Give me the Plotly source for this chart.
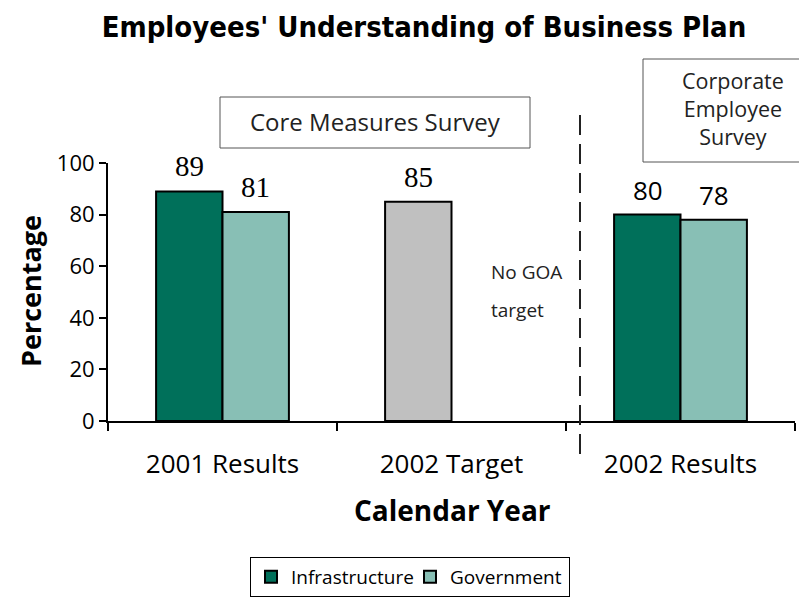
import plotly.graph_objects as go

categories = ["2001 Results", "2002 Target", "2002 Results"]
infrastructure = [89, 85, 80]
government = [81, None, 78]
infra_colors = ["#00705A", "#C0C0C0", "#00705A"]
gov_color = "#88BFB5"
y_ticks = [0, 20, 40, 60, 80, 100]
label_fonts_infra = ["Liberation Serif", "Liberation Serif", "Open Sans"]
label_fonts_gov = ["Liberation Serif", None, "Open Sans"]
label_sizes_infra = [29, 29, 26]
label_sizes_gov = [29, None, 26]

SANS = "Open Sans"

fig = go.Figure()
fig.add_trace(go.Bar(
    name="Infrastructure", x=categories, y=infrastructure,
    marker=dict(color=infra_colors, line=dict(color="black", width=2)),
))
fig.add_trace(go.Bar(
    name="Government", x=categories, y=government,
    marker=dict(color=gov_color, line=dict(color="black", width=2)),
))

annotations = []
for i, c in enumerate(categories):
    v = infrastructure[i]
    if v is not None:
        annotations.append(dict(x=c, y=v, xref="x", yref="y", text=str(v), showarrow=False,
                                xshift=-33, yshift=25, yanchor="middle",
                                font=dict(family=label_fonts_infra[i], size=label_sizes_infra[i], color="black")))
    v = government[i]
    if v is not None:
        annotations.append(dict(x=c, y=v, xref="x", yref="y", text=str(v), showarrow=False,
                                xshift=33, yshift=25, yanchor="middle",
                                font=dict(family=label_fonts_gov[i], size=label_sizes_gov[i], color="black")))

# page has an 8px body margin; figure is sized to fit the window
OFF = 8
W, H = 807 - OFF, 598 - OFF
PL, PR, PT, PB = 108, 795, 163, 421   # plot area in page pixels
L, T = PL - OFF, PT - OFF
R, B = W - (PR - OFF), H - (PB - OFF)
pw, ph = PR - PL, PB - PT

def px(x):
    return (x - PL) / pw

def py(y):
    return (PB - y) / ph

shapes = [
    dict(type="rect", xref="paper", yref="paper", x0=px(220), x1=px(530), y0=py(148), y1=py(97),
         line=dict(color="#555555", width=1), fillcolor="white"),
    dict(type="rect", xref="paper", yref="paper", x0=px(643), x1=px(806), y0=py(162), y1=py(59),
         line=dict(color="#555555", width=1), fillcolor="white"),
    dict(type="line", xref="paper", yref="paper", x0=px(580), x1=px(580), y0=py(115), y1=py(463),
         line=dict(color="#222222", width=2, dash="20px,9px")),
]

txt = dict(family=SANS, size=24, color="#222222")
annotations += [
    dict(xref="paper", yref="paper", x=px(375), y=py(122), text="Core Measures Survey", showarrow=False,
         xanchor="center", yanchor="middle", font=txt),
    dict(xref="paper", yref="paper", x=px(733), y=py(108), text="Corporate<br>Employee<br>Survey",
         showarrow=False, xanchor="center", yanchor="middle", align="center",
         font=dict(family=SANS, size=21.5, color="#222222")),
    dict(xref="paper", yref="paper", x=px(489), y=py(272), text="No GOA", showarrow=False,
         xanchor="left", yanchor="middle", font=dict(family=SANS, size=19, color="#222222")),
    dict(xref="paper", yref="paper", x=px(489), y=py(310), text="target", showarrow=False,
         xanchor="left", yanchor="middle", font=dict(family=SANS, size=19, color="#222222")),
    dict(xref="paper", yref="paper", x=px(30), y=py(291), text="<b>Percentage</b>", showarrow=False,
         textangle=-90, xanchor="center", yanchor="middle", font=dict(family=SANS, size=27, color="black")),
    dict(xref="paper", yref="paper", x=px(453), y=py(510), text="<b>Calendar Year</b>", showarrow=False,
         xanchor="center", yanchor="middle", font=dict(family=SANS, size=28, color="black")),
]

fig.update_layout(
    width=W, height=H,
    margin=dict(l=L, r=R, t=T, b=B, autoexpand=False),
    paper_bgcolor="white", plot_bgcolor="white",
    barmode="group", bargap=0.42, bargroupgap=0,
    title=dict(text="<b>Employees' Understanding of Business Plan</b>", x=(424 - OFF) / W, xanchor="center",
               y=1 - (27 - OFF) / H, yanchor="middle", yref="container",
               font=dict(family="DejaVu Sans Condensed", size=29, color="black")),
    font=dict(family=SANS, color="black"),
    showlegend=True,
    legend=dict(orientation="h", x=px(410), xanchor="center", y=py(577), yanchor="middle",
                bordercolor="black", borderwidth=1, bgcolor="white",
                entrywidth=114, entrywidthmode="pixels", itemwidth=30,
                font=dict(family=SANS, size=19, color="black"), itemsizing="constant"),
    shapes=shapes,
    annotations=annotations,
)
fig.update_xaxes(automargin=False, showline=True, linecolor="black", linewidth=2, ticks="outside", ticklen=8,
                 tickwidth=2, tickcolor="black", tickson="boundaries", showgrid=False,
                 tickfont=dict(family=SANS, size=26, color="black"), ticklabelstandoff=19)
fig.update_yaxes(automargin=False, range=[0, 100], tickvals=y_ticks, showline=True, linecolor="black", linewidth=2,
                 ticks="outside", ticklen=7, tickwidth=2, tickcolor="black", showgrid=False,
                 zeroline=False, tickfont=dict(family=SANS, size=22, color="black"))

fig.write_html("out.html")
